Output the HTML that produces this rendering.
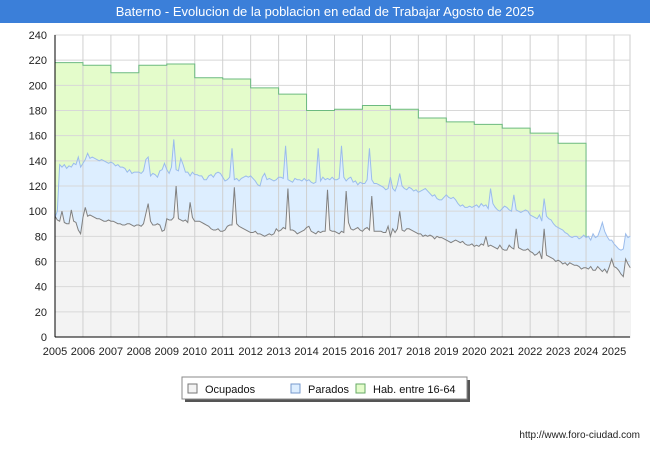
<!DOCTYPE html>
<html><head><meta charset="utf-8"><style>
body{margin:0;background:#fff;font-family:"Liberation Sans",sans-serif;}
#wrap{position:relative;width:650px;height:450px;overflow:hidden;background:#fff}
#title{position:absolute;left:0;top:0;width:650px;height:23px;background:#3b7fd9;color:#fff;font-size:13px;line-height:23px;text-align:center}
</style></head><body>
<div id="wrap">
<div id="title">Baterno - Evolucion de la poblacion en edad de Trabajar Agosto de 2025</div>
<svg id="chart" width="650" height="450" style="position:absolute;left:0;top:0"></svg>
</div>
<script>
const years=[2005,2006,2007,2008,2009,2010,2011,2012,2013,2014,2015,2016,2017,2018,2019,2020,2021,2022,2023,2024,2025];
const yTicks=[0,20,40,60,80,100,120,140,160,180,200,220,240];
const hab=[218,216,210,216,217,206,205,198,193,180,181,184,181,174,171,169,166,162,154];
const ocupados=[
96,93,92,100,91,90,90,101,92,91,85,82,
95,103,96,97,96,95,94,94,93,92,92,93,
92,92,91,90,90,89,89,90,90,89,88,89,
89,88,90,98,106,92,89,89,90,89,84,85,
94,93,93,95,120,94,93,92,93,91,107,95,
92,92,92,91,90,89,88,86,85,85,86,84,
84,85,88,89,89,119,90,88,87,86,85,84,
83,83,84,82,82,81,80,81,82,81,82,86,
84,85,87,86,118,85,85,84,82,83,84,85,
87,88,84,83,82,84,83,84,84,117,85,84,
84,83,82,84,83,116,91,86,85,86,87,85,
84,86,87,85,112,84,84,84,84,83,83,88,
80,86,83,86,100,85,84,86,86,85,84,83,
82,82,80,81,80,81,80,78,80,79,79,78,
77,76,75,76,77,76,75,76,74,73,73,74,
72,73,72,74,73,80,72,73,72,71,70,73,
70,69,69,73,71,70,86,71,70,69,69,70,
68,67,65,66,68,62,86,65,64,63,62,60,
61,60,58,59,57,59,58,57,57,56,54,55,
55,54,56,53,53,56,54,52,54,51,56,62,
56,55,53,50,48,62,58,55];
const activos=[
95,100,137,135,137,134,136,135,138,137,143,135,
138,141,146,142,143,142,141,140,141,140,139,138,
139,138,136,137,135,135,134,131,133,130,131,131,
131,130,132,141,143,128,130,129,127,132,133,138,
133,130,135,157,133,132,142,137,131,131,128,131,
129,129,128,128,125,125,128,129,127,130,131,130,
127,124,125,127,150,125,126,124,126,127,128,127,
128,126,124,121,120,127,130,125,126,125,124,125,
127,127,126,152,125,124,123,126,125,125,124,126,
124,125,123,122,123,150,124,127,125,126,125,127,
125,125,126,152,127,124,126,127,123,124,121,123,
122,122,125,150,125,122,122,121,120,119,117,118,
127,118,116,121,130,120,118,117,119,118,116,117,
115,116,117,118,116,114,112,113,110,109,109,111,
113,111,110,111,109,106,104,105,103,103,104,103,
104,105,103,106,104,105,102,118,106,103,101,100,
102,104,103,101,100,113,101,100,99,100,101,100,
97,96,95,94,97,92,110,96,94,93,90,88,
87,86,85,83,82,80,79,80,80,78,79,81,
79,80,77,82,79,80,85,91,84,80,77,77,
74,72,70,69,70,82,79,80];
const parados=activos.map((v,i)=>v-ocupados[i]);

const X0=55,X1=630,Y0=337,Y1=35;
const pxYear=27.95;
const x=t=>X0+(t-2005)*pxYear;
const y=v=>Y0-(v/240)*(Y0-Y1);
const svg=document.getElementById('chart');
const NS='http://www.w3.org/2000/svg';
function mk(tag,attrs,parent){const e=document.createElementNS(NS,tag);for(const k in attrs)e.setAttribute(k,attrs[k]);(parent||svg).appendChild(e);return e;}

const bg=mk('rect',{x:X0,y:Y1,width:X1-X0,height:Y0-Y1,fill:'#fff',stroke:'#ccc'});



let hp=`M${x(2005)},${y(activos[0])}`;
hab.forEach((v,i)=>{hp+=` L${x(2005+i)},${y(v)} L${x(2006+i)},${y(v)}`;});
const lastHabIdx=hab.length*12;
hp+=` L${x(2005+hab.length)},${y(activos[lastHabIdx])}`;
const habLine=hp;
for(let i=lastHabIdx;i>=0;i--)hp+=` L${x(2005+i/12)},${y(activos[i])}`;
const ha=mk('path',{d:hp+'Z',fill:'#e4fccb',stroke:'none'});



const n=ocupados.length;
let pp='';
for(let i=0;i<n;i++)pp+=(i?' L':'M')+x(2005+i/12)+','+y(ocupados[i]+parados[i]);
let pa=pp;
for(let i=n-1;i>=0;i--)pa+=` L${x(2005+i/12)},${y(ocupados[i])}`;
const pA=mk('path',{d:pa+'Z',fill:'#ddeeff',stroke:'none'});



let op='';
for(let i=0;i<n;i++)op+=(i?' L':'M')+x(2005+i/12)+','+y(ocupados[i]);
const oA=mk('path',{d:op+` L${x(2005+(n-1)/12)},${Y0} L${X0},${Y0}Z`,fill:'#f3f3f3',stroke:'none'});



yTicks.forEach(v=>{
 const g=mk('line',{x1:X0,x2:X1,y1:y(v),y2:y(v),stroke:'#d8d8d8','stroke-width':1});
 
 
 const t=mk('text',{x:47,y:y(v)+4,'text-anchor':'end','font-size':11,fill:'#222'});
 t.textContent=v;
 
 
});
years.forEach(yr=>{
 const g=mk('line',{x1:x(yr),x2:x(yr),y1:Y1,y2:Y0,stroke:'#d0d0d0','stroke-width':1});
 
 
 const t=mk('text',{x:x(yr),y:355,'text-anchor':'middle','font-size':11,fill:'#222'});
 t.textContent=yr;
 
 
});

const hl=mk('path',{d:habLine,fill:'none',stroke:'#6cba80','stroke-width':1});


const pl=mk('path',{d:pp,fill:'none',stroke:'#9bbcec','stroke-width':1});


const ol=mk('path',{d:op,fill:'none',stroke:'#808080','stroke-width':1});



const ax=mk('line',{x1:X0,x2:X0,y1:Y1,y2:Y0,stroke:'#000'});


const bx=mk('line',{x1:X0,x2:X1,y1:Y0,y2:Y0,stroke:'#000'});



const lg=mk('g',{});


mk('rect',{x:185,y:380,width:285,height:22,fill:'#555'},lg);
mk('rect',{x:182,y:377,width:285,height:22,fill:'#fff',stroke:'#888'},lg);
const items=[['Ocupados','#f3f3f3','#777',188],['Parados','#ddeeff','#7799cc',291],['Hab. entre 16-64','#e4fccb','#66aa66',356]];
items.forEach(it=>{
 const g=mk('g',{},lg);
 
 
 mk('rect',{x:it[3],y:384,width:9,height:9,fill:it[1],stroke:it[2]},g);
 const t=mk('text',{x:it[3]+17,y:393,'font-size':11,fill:'#111'},g);
 t.textContent=it[0];
});
const f=mk('text',{x:640,y:438,'text-anchor':'end','font-size':10,fill:'#222'});
f.textContent='http://www.foro-ciudad.com';


</script>
</body></html>
